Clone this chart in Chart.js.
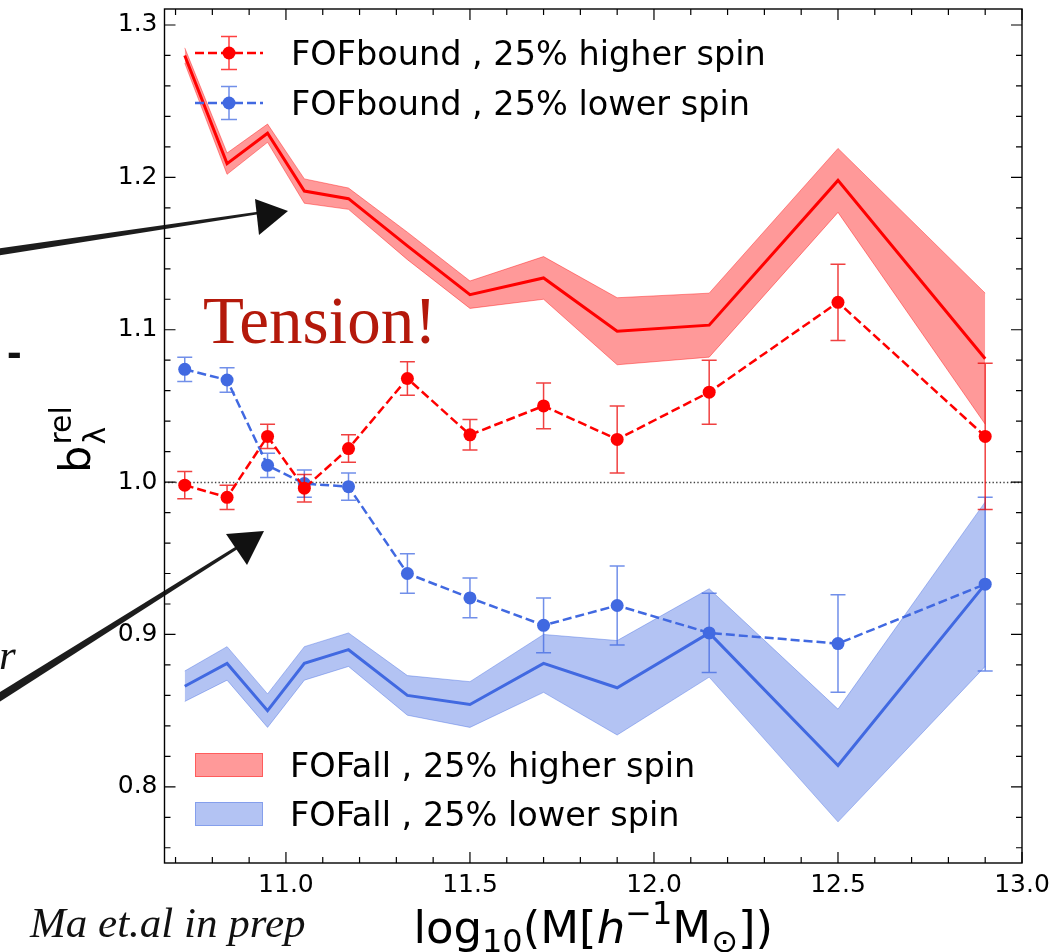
<!DOCTYPE html>
<html>
<head>
<meta charset="utf-8">
<script src="https://cdn.jsdelivr.net/npm/chart.js@4.4.1/dist/chart.umd.min.js"></script>
<style>
  html, body { margin: 0; padding: 0; background: #fff; }
  canvas { display: block; }
</style>
</head>
<body>
<canvas id="chart" width="1062" height="952"></canvas>
<script>
// Halo mass bins, log10(M [h^-1 Msun])
const massBins = [10.725, 10.84, 10.95, 11.05, 11.17, 11.33, 11.5, 11.7, 11.9, 12.15, 12.5, 12.9];

// FOFbound: relative spin bias and 1-sigma errors
const boundHigh    = [0.998, 0.990, 1.030, 0.996, 1.022, 1.068, 1.031, 1.050, 1.028, 1.059, 1.118, 1.030];
const boundHighErr = [0.009, 0.008, 0.008, 0.009, 0.009, 0.011, 0.010, 0.015, 0.022, 0.021, 0.025, 0.048];
const boundLow     = [1.074, 1.067, 1.011, 0.999, 0.997, 0.940, 0.924, 0.906, 0.919, 0.901, 0.894, 0.933];
const boundLowErr  = [0.008, 0.008, 0.008, 0.009, 0.009, 0.013, 0.013, 0.018, 0.026, 0.026, 0.032, 0.057];

// FOFall: relative spin bias and half-width of the shaded band
const allHigh    = [1.280, 1.209, 1.229, 1.191, 1.186, 1.155, 1.123, 1.134, 1.099, 1.103, 1.198, 1.081];
const allHighErr = [0.005, 0.007, 0.006, 0.008, 0.007, 0.009, 0.009, 0.014, 0.022, 0.021, 0.021, 0.043];
const allLow     = [0.866, 0.881, 0.850, 0.881, 0.890, 0.860, 0.854, 0.881, 0.865, 0.901, 0.814, 0.933];
const allLowErr  = [0.010, 0.011, 0.011, 0.011, 0.011, 0.013, 0.015, 0.019, 0.031, 0.029, 0.037, 0.054];

// Axis ticks
const xTicks = [11.0, 11.5, 12.0, 12.5, 13.0];
const yTicks = [0.8, 0.9, 1.0, 1.1, 1.2, 1.3];

// Legend entries
const boundNames = ['FOFbound , 25% higher spin', 'FOFbound , 25% lower spin'];
const allNames   = ['FOFall , 25% higher spin', 'FOFall , 25% lower spin'];

const RED = '#ff0000';
const BLUE = '#4169e1';
const RED_BAND = 'rgba(255,0,0,0.4)';
const BLUE_BAND = 'rgba(65,105,225,0.4)';

const pts = ys => massBins.map((x, i) => ({ x, y: ys[i] }));
const edge = (ys, es, s) => massBins.map((x, i) => ({ x, y: ys[i] + s * es[i] }));

// error bars drawn just beneath their own dataset
const errorBars = {
  id: 'errorBars',
  beforeDatasetDraw(chart, args) {
    const ds = chart.data.datasets[args.index];
    if (!ds.errors) return;
    const { ctx, scales: { x, y } } = chart;
    ctx.save();
    ctx.strokeStyle = ds.errorColor;
    ctx.lineWidth = 1.5;
    ds.data.forEach((p, i) => {
      const px = x.getPixelForValue(p.x);
      const top = y.getPixelForValue(p.y + ds.errors[i]);
      const bot = y.getPixelForValue(p.y - ds.errors[i]);
      ctx.beginPath();
      ctx.moveTo(px, top); ctx.lineTo(px, bot);
      ctx.moveTo(px - 7.5, top); ctx.lineTo(px + 7.5, top);
      ctx.moveTo(px - 7.5, bot); ctx.lineTo(px + 7.5, bot);
      ctx.stroke();
    });
    ctx.restore();
  }
};

// dotted reference line at unity
const unityLine = {
  id: 'unityLine',
  beforeDatasetsDraw(chart) {
    const { ctx, chartArea: a, scales: { y } } = chart;
    const py = Math.round(y.getPixelForValue(1.0)) + 0.5;
    ctx.save();
    ctx.strokeStyle = '#444';
    ctx.lineWidth = 1.4;
    ctx.setLineDash([1.4, 2.2]);
    ctx.beginPath();
    ctx.moveTo(a.left, py); ctx.lineTo(a.right, py);
    ctx.stroke();
    ctx.restore();
  }
};

// box frame with inward major/minor ticks on all four sides
const frame = {
  id: 'frame',
  afterDatasetsDraw(chart) {
    const { ctx, chartArea: a, scales: { x, y } } = chart;
    ctx.save();
    ctx.strokeStyle = '#000';
    ctx.lineWidth = 1.4;
    ctx.strokeRect(a.left, a.top, a.right - a.left, a.bottom - a.top);
    ctx.lineWidth = 1.2;
    const xt = (v, len) => {
      const px = x.getPixelForValue(v);
      ctx.beginPath();
      ctx.moveTo(px, a.bottom); ctx.lineTo(px, a.bottom - len);
      ctx.moveTo(px, a.top); ctx.lineTo(px, a.top + len);
      ctx.stroke();
    };
    const yt = (v, len) => {
      const py = y.getPixelForValue(v);
      ctx.beginPath();
      ctx.moveTo(a.left, py); ctx.lineTo(a.left + len, py);
      ctx.moveTo(a.right, py); ctx.lineTo(a.right - len, py);
      ctx.stroke();
    };
    for (let k = 107; k <= 130; k++) {
      const v = k / 10;
      if (k % 5 === 0) xt(v, 11); else xt(v, 6);
    }
    for (let k = 38; k <= 65; k++) {
      const v = k / 50;
      if (k % 5 === 0) yt(v, 11); else yt(v, 6);
    }
    ctx.restore();
  }
};

function drawRuns(ctx, runs, x0, y0) {
  let x = x0;
  for (const r of runs) {
    ctx.font = r.font;
    ctx.fillText(r.text, x, y0 + (r.dy || 0));
    x += ctx.measureText(r.text).width;
  }
  return x - x0;
}
function runsWidth(ctx, runs) {
  let w = 0;
  for (const r of runs) { ctx.font = r.font; w += ctx.measureText(r.text).width; }
  return w;
}

// legends, axis titles and slide annotations
const decorations = {
  id: 'decorations',
  afterDraw(chart) {
    const { ctx, chartArea: a } = chart;
    ctx.save();
    ctx.textBaseline = 'alphabetic';
    ctx.textAlign = 'left';

    // legend: FOFbound (errorbar handles)
    const LF = '33.5px "DejaVu Sans"';
    [[RED, 53, boundNames[0]], [BLUE, 103, boundNames[1]]].forEach(([c, yy, name]) => {
      ctx.strokeStyle = c;
      ctx.lineWidth = 2.5;
      ctx.setLineDash([9, 4]);
      ctx.beginPath(); ctx.moveTo(195, yy); ctx.lineTo(263, yy); ctx.stroke();
      ctx.setLineDash([]);
      ctx.globalAlpha = 0.75;
      ctx.lineWidth = 1.5;
      ctx.beginPath();
      ctx.moveTo(229, yy - 16.5); ctx.lineTo(229, yy + 16.5);
      ctx.moveTo(221, yy - 16.5); ctx.lineTo(237, yy - 16.5);
      ctx.moveTo(221, yy + 16.5); ctx.lineTo(237, yy + 16.5);
      ctx.stroke();
      ctx.globalAlpha = 1;
      ctx.fillStyle = c;
      ctx.beginPath(); ctx.arc(229, yy, 6.5, 0, Math.PI * 2); ctx.fill();
      ctx.fillStyle = '#000';
      ctx.font = LF;
      ctx.fillText(name, 291, yy + 12);
    });

    // legend: FOFall (band patches)
    [[RED_BAND, 753, allNames[0]], [BLUE_BAND, 802, allNames[1]]].forEach(([c, yy, name]) => {
      ctx.fillStyle = c;
      ctx.fillRect(195, yy, 68, 24);
      ctx.strokeStyle = c;
      ctx.lineWidth = 1;
      ctx.strokeRect(195.5, yy + 0.5, 67, 23);
      ctx.fillStyle = '#000';
      ctx.font = LF;
      ctx.fillText(name, 290, yy + 24);
    });

    // x-axis title
    const F = 45, S = 32;
    const xRuns = [
      { text: 'log', font: `${F}px "DejaVu Sans"` },
      { text: '10', font: `${S}px "DejaVu Sans"`, dy: 0.2 * F },
      { text: '(M[', font: `${F}px "DejaVu Sans"` },
      { text: 'h', font: `italic ${F}px "DejaVu Sans"` },
      { text: '\u22121', font: `${S}px "DejaVu Sans"`, dy: -0.42 * F },
      { text: 'M', font: `${F}px "DejaVu Sans"` },
      { text: '\u2299', font: `${S}px "DejaVu Sans"`, dy: 0.2 * F },
      { text: '])', font: `${F}px "DejaVu Sans"` }
    ];
    ctx.fillStyle = '#000';
    const xw = runsWidth(ctx, xRuns);
    drawRuns(ctx, xRuns, (a.left + a.right) / 2 - xw / 2, 943);

    // y-axis title, rotated
    const YF = 43, YS = 30;
    ctx.font = `${YF}px "DejaVu Sans"`;
    const wb = ctx.measureText('b').width;
    ctx.font = `${YS}px "DejaVu Sans"`;
    const wr = Math.max(ctx.measureText('rel').width, ctx.measureText('\u03bb').width);
    const tot = wb + wr;
    ctx.save();
    ctx.translate(90, (a.top + a.bottom) / 2 + 4 + tot / 2);
    ctx.rotate(-Math.PI / 2);
    ctx.font = `${YF}px "DejaVu Sans"`;
    ctx.fillText('b', 0, 0);
    ctx.font = `${YS}px "DejaVu Sans"`;
    ctx.fillText('rel', wb + 1, -0.45 * YF);
    ctx.fillText('\u03bb', wb + 1, 0.35 * YF);
    ctx.restore();

    // annotation text
    ctx.fillStyle = '#b4190b';
    ctx.font = '67px "Liberation Serif"';
    ctx.fillText('Tension!', 203, 343);

    ctx.fillStyle = '#111';
    ctx.font = 'italic 43px "Liberation Serif"';
    ctx.fillText('Ma et.al in prep', 30, 937);
    ctx.fillText('r', -1, 669);
    ctx.font = 'bold 44px "Liberation Sans"';
    ctx.fillText('-', 7, 367);

    // hand-drawn style arrows
    const arrow = (x0, y0, x1, y1, w0, w1, head) => {
      const dx = x1 - x0, dy = y1 - y0, L = Math.hypot(dx, dy);
      const nx = -dy / L, ny = dx / L;
      ctx.fillStyle = 'rgba(10,10,10,0.92)';
      ctx.beginPath();
      ctx.moveTo(x0 + nx * w0 / 2, y0 + ny * w0 / 2);
      ctx.lineTo(x1 + nx * w1 / 2, y1 + ny * w1 / 2);
      ctx.lineTo(x1 - nx * w1 / 2, y1 - ny * w1 / 2);
      ctx.lineTo(x0 - nx * w0 / 2, y0 - ny * w0 / 2);
      ctx.closePath();
      ctx.fill();
      ctx.fillStyle = '#111';
      ctx.beginPath();
      ctx.moveTo(head[0][0], head[0][1]);
      ctx.lineTo(head[1][0], head[1][1]);
      ctx.lineTo(head[2][0], head[2][1]);
      ctx.closePath();
      ctx.fill();
    };
    arrow(-2, 252, 258, 213, 7, 2.5, [[255, 199], [288, 211], [259, 235]]);
    arrow(-2, 698, 238, 547, 8, 3, [[226, 534], [264, 531], [247, 565]]);

    ctx.restore();
  }
};

Chart.defaults.font.family = '"DejaVu Sans"';
Chart.defaults.color = '#000';

new Chart(document.getElementById('chart'), {
  type: 'line',
  data: {
    datasets: [
      { label: boundNames[0], data: pts(boundHigh), errors: boundHighErr, errorColor: 'rgba(235,0,0,0.75)',
        borderColor: RED, backgroundColor: RED, borderWidth: 2.5, borderDash: [9, 4],
        pointRadius: 6.5, pointBackgroundColor: RED, pointBorderWidth: 0, fill: false, order: 0 },
      { label: boundNames[1], data: pts(boundLow), errors: boundLowErr, errorColor: 'rgba(65,105,225,0.75)',
        borderColor: BLUE, backgroundColor: BLUE, borderWidth: 2.5, borderDash: [9, 4],
        pointRadius: 6.5, pointBackgroundColor: BLUE, pointBorderWidth: 0, fill: false, order: 1 },
      { label: allNames[0], data: pts(allHigh), borderColor: RED, borderWidth: 3,
        pointRadius: 0, fill: false, order: 2 },
      { label: allNames[1], data: pts(allLow), borderColor: BLUE, borderWidth: 3,
        pointRadius: 0, fill: false, order: 3 },
      { label: 'high upper', data: edge(allHigh, allHighErr, 1), borderColor: RED_BAND, borderWidth: 1,
        backgroundColor: RED_BAND, pointRadius: 0, fill: '+1', order: 4 },
      { label: 'high lower', data: edge(allHigh, allHighErr, -1), borderColor: RED_BAND, borderWidth: 1,
        pointRadius: 0, fill: false, order: 5 },
      { label: 'low upper', data: edge(allLow, allLowErr, 1), borderColor: BLUE_BAND, borderWidth: 1,
        backgroundColor: BLUE_BAND, pointRadius: 0, fill: '+1', order: 6 },
      { label: 'low lower', data: edge(allLow, allLowErr, -1), borderColor: BLUE_BAND, borderWidth: 1,
        pointRadius: 0, fill: false, order: 7 }
    ]
  },
  options: {
    responsive: false,
    animation: false,
    devicePixelRatio: 1,
    layout: { padding: { left: 0, top: 9, right: 40, bottom: 0 } },
    elements: { line: { tension: 0 } },
    plugins: { legend: { display: false }, tooltip: { enabled: false } },
    scales: {
      x: {
        type: 'linear', min: 10.67, max: 13.0,
        grid: { display: false, drawTicks: false },
        border: { display: false },
        afterBuildTicks: s => { s.ticks = xTicks.map(v => ({ value: v })); },
        afterFit: s => { s.height = 89; s.paddingLeft = 0; s.paddingRight = 0; },
        ticks: { autoSkip: false, maxRotation: 0, padding: 7, color: '#000',
                 font: { size: 25, family: '"DejaVu Sans"' }, callback: v => v.toFixed(1) }
      },
      y: {
        type: 'linear', min: 0.75, max: 1.3105,
        grid: { display: false, drawTicks: false },
        border: { display: false },
        afterBuildTicks: s => { s.ticks = yTicks.map(v => ({ value: v })); },
        afterFit: s => { s.width = 164.5; s.paddingTop = 0; s.paddingBottom = 0; },
        ticks: { autoSkip: false, padding: 7, color: '#000',
                 font: { size: 25, family: '"DejaVu Sans"' }, callback: v => v.toFixed(1) }
      }
    }
  },
  plugins: [unityLine, errorBars, frame, decorations]
});
</script>
</body>
</html>
